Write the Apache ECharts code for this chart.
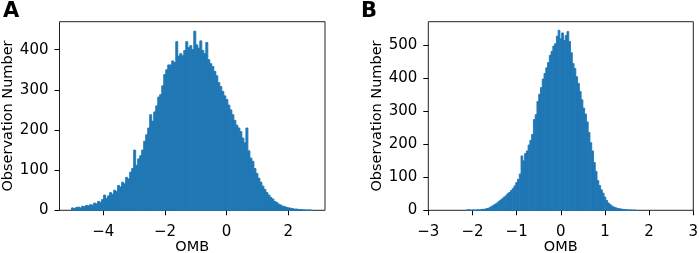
<!DOCTYPE html>
<html>
<head>
<meta charset="utf-8">
<script src="https://cdn.jsdelivr.net/npm/echarts@6/dist/echarts.min.js"></script>
<style>
  html, body { margin: 0; padding: 0; background: #fff; }
  #chart { width: 699px; height: 253px; }
</style>
</head>
<body>
<div id="chart"></div>
<script>
// panel A: OMB histogram, bins of 0.065 starting at -5.03
const binStartA = -5.03;
const binWidthA = 0.065;
const countsA = [
  6, 4, 7, 8, 6, 10, 9, 12, 11, 14,
  13, 18, 16, 22, 20, 27, 38, 30, 36, 44,
  40, 50, 47, 62, 58, 70, 66, 82, 78, 95,
  104, 150, 112, 128, 136, 150, 172, 188, 205, 238,
  222, 245, 260, 282, 288, 310, 338, 350, 362, 362,
  372, 368, 420, 384, 390, 385, 398, 420, 405, 410,
  400, 446, 412, 404, 422, 398, 390, 418, 375, 365,
  358, 346, 335, 318, 308, 296, 285, 276, 262, 250,
  238, 224, 212, 205, 196, 180, 168, 205, 148, 130,
  122, 104, 92, 80, 70, 60, 52, 44, 38, 32,
  28, 22, 19, 15, 13, 10, 9, 7, 6, 5,
  4, 3, 3, 2, 2, 1, 1, 0, 1, 0
];

// panel B: OMB histogram, bins of 0.04 starting at -2.14
const binStartB = -2.14;
const binWidthB = 0.04;
const countsB = [
  1, 2, 0, 1, 1, 0, 2, 1, 2, 3,
  3, 5, 6, 9, 12, 15, 19, 22, 27, 31,
  35, 40, 44, 50, 54, 60, 66, 74, 84, 94,
  110, 165, 150, 172, 180, 198, 212, 230, 275, 290,
  330, 352, 372, 398, 415, 432, 448, 470, 482, 498,
  505, 528, 546, 520, 538, 515, 530, 542, 512, 478,
  445, 430, 405, 385, 360, 335, 310, 292, 268, 236,
  205, 180, 145, 118, 90, 75, 62, 52, 40, 30,
  22, 17, 13, 10, 8, 6, 5, 4, 3, 2,
  2, 1, 1, 1, 0, 1
];

const ticksYA = [0, 100, 200, 300, 400];
const ticksXA = [-4, -2, 0, 2];
const ticksYB = [0, 100, 200, 300, 400, 500];

const toBins = (start, w, counts) => counts.map((c, i) => [start + i * w, start + (i + 1) * w, c]);

const font = 'DejaVu Sans';
const blue = '#1f77b4';
const minus = v => String(v).replace('-', '\u2212');

function renderBin(params, api) {
  const p0 = api.coord([api.value(0), api.value(2)]);
  const p1 = api.coord([api.value(1), 0]);
  return {
    type: 'rect',
    shape: { x: p0[0], y: p0[1], width: p1[0] - p0[0], height: p1[1] - p0[1] },
    style: { fill: blue, stroke: blue, lineWidth: 0.9 }
  };
}

const axisLabel = { fontFamily: font, fontSize: 15, color: '#000', formatter: minus };
const axisTick = { show: true, inside: false, length: 5, lineStyle: { color: '#000', width: 1 } };
const axisLine = { show: false, onZero: false };
const nameStyle = { fontFamily: font, fontSize: 14.5, color: '#000' };

const myChart = echarts.init(document.getElementById('chart'));
const option = {
  animation: false,
  graphic: [
    { type: 'text', left: 3, top: 1, style: { text: 'A', font: 'bold 21px "DejaVu Sans"', fill: '#000' } },
    { type: 'text', left: 361, top: 1, style: { text: 'B', font: 'bold 21px "DejaVu Sans"', fill: '#000' } }
  ],
  grid: [
    { left: 59.5, right: 374, top: 21.7, bottom: 42.7, outerBoundsMode: 'none', show: true, borderColor: '#222', borderWidth: 1, backgroundColor: 'transparent' },
    { left: 428.3, right: 5.7, top: 21.7, bottom: 42.7, outerBoundsMode: 'none', show: true, borderColor: '#222', borderWidth: 1, backgroundColor: 'transparent' }
  ],
  xAxis: [
    {
      type: 'value', gridIndex: 0, min: -5.42, max: 3.19,
      name: 'OMB', nameLocation: 'middle', nameGap: 29, nameMoveOverlap: false, nameTextStyle: nameStyle,
      axisLine: axisLine, splitLine: { show: false },
      axisTick: Object.assign({ customValues: ticksXA }, axisTick),
      axisLabel: Object.assign({ customValues: ticksXA, margin: 14 }, axisLabel)
    },
    {
      type: 'value', gridIndex: 1, min: -3, max: 3, interval: 1,
      name: 'OMB', nameLocation: 'middle', nameGap: 29, nameMoveOverlap: false, nameTextStyle: nameStyle,
      axisLine: axisLine, splitLine: { show: false },
      axisTick: axisTick,
      axisLabel: Object.assign({ margin: 14 }, axisLabel)
    }
  ],
  yAxis: [
    {
      type: 'value', gridIndex: 0, min: 0, max: 469.7,
      name: 'Observation Number', nameLocation: 'middle', nameGap: 44, nameTextStyle: nameStyle,
      axisLine: axisLine, splitLine: { show: false },
      axisTick: Object.assign({ customValues: ticksYA }, axisTick),
      axisLabel: Object.assign({ customValues: ticksYA, margin: 11 }, axisLabel)
    },
    {
      type: 'value', gridIndex: 1, min: 0, max: 572,
      name: 'Observation Number', nameLocation: 'middle', nameGap: 44, nameTextStyle: nameStyle,
      axisLine: axisLine, splitLine: { show: false },
      axisTick: Object.assign({ customValues: ticksYB }, axisTick),
      axisLabel: Object.assign({ customValues: ticksYB, margin: 11 }, axisLabel)
    }
  ],
  series: [
    {
      type: 'custom', xAxisIndex: 0, yAxisIndex: 0,
      renderItem: renderBin, encode: { x: [0, 1], y: 2 },
      data: toBins(binStartA, binWidthA, countsA)
    },
    {
      type: 'custom', xAxisIndex: 1, yAxisIndex: 1,
      renderItem: renderBin, encode: { x: [0, 1], y: 2 },
      data: toBins(binStartB, binWidthB, countsB)
    }
  ]
};
option && myChart.setOption(option);
</script>
</body>
</html>
